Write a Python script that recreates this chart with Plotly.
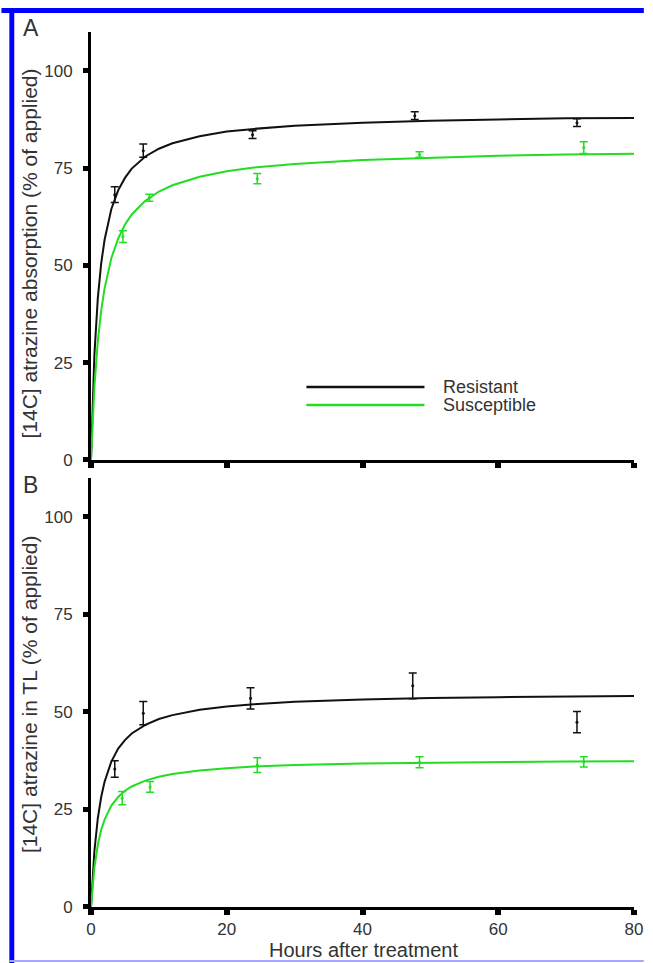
import plotly.graph_objects as go
from plotly.subplots import make_subplots

# ---------------- data ----------------
# Panel A: [14C] atrazine absorption (% of applied)
a_res_x = [3.5, 7.7, 23.8, 47.7, 71.6]
a_res_y = [68.2, 79.5, 83.6, 88.5, 86.7]
a_res_err = [2.0, 1.7, 1.0, 1.0, 1.0]
a_sus_x = [4.7, 8.6, 24.5, 48.4, 72.6]
a_sus_y = [57.4, 67.4, 72.3, 78.5, 80.3]
a_sus_err = [1.5, 0.9, 1.3, 0.7, 1.5]

# Panel B: [14C] atrazine in TL (% of applied)
b_res_x = [3.5, 7.7, 23.5, 47.4, 71.6]
b_res_y = [35.4, 49.7, 53.5, 56.7, 47.4]
b_res_err = [2.1, 3.0, 2.7, 3.3, 2.7]
b_sus_x = [4.6, 8.7, 24.5, 48.4, 72.6]
b_sus_y = [27.9, 30.8, 36.4, 37.1, 37.2]
b_sus_err = [1.7, 1.4, 1.9, 1.4, 1.3]

# fitted curves
curve_x = [0, 0.25, 0.5, 1, 1.5, 2, 3, 4, 5, 6, 8, 10, 12, 16, 20, 24, 30, 40, 50, 60, 70, 80]
a_res_curve = [0, 15.9, 27.0, 41.5, 50.5, 56.6, 64.5, 69.3, 72.5, 74.9, 78.0, 80.0, 81.4,
               83.2, 84.4, 85.1, 85.9, 86.7, 87.2, 87.5, 87.8, 87.9]
a_sus_curve = [0, 10.6, 18.8, 30.4, 38.4, 44.1, 51.9, 56.9, 60.5, 63.1, 66.6, 69.0, 70.6,
               72.8, 74.2, 75.2, 76.1, 77.1, 77.7, 78.2, 78.5, 78.7]
b_res_curve = [0, 8.2, 14.3, 22.7, 28.2, 32.1, 37.3, 40.6, 42.8, 44.5, 46.7, 48.2, 49.2,
               50.6, 51.4, 52.0, 52.6, 53.2, 53.6, 53.8, 54.0, 54.1]
b_sus_curve = [0, 5.8, 10.1, 15.9, 19.8, 22.4, 26.0, 28.2, 29.8, 30.9, 32.4, 33.4, 34.1,
               35.0, 35.6, 36.0, 36.4, 36.8, 37.0, 37.2, 37.3, 37.4]

x_ticks = [0, 20, 40, 60, 80]
y_ticks = [0, 25, 50, 75, 100]
series_names = ["Resistant", "Susceptible"]

BLACK = "#111111"
GREEN = "#22DD22"
FONT = "Liberation Sans, Arial, sans-serif"
TXT = "#333333"

fig = make_subplots(rows=2, cols=1, vertical_spacing=0.0)

panels = [
    (1, a_res_x, a_res_y, a_res_err, a_sus_x, a_sus_y, a_sus_err, a_res_curve, a_sus_curve),
    (2, b_res_x, b_res_y, b_res_err, b_sus_x, b_sus_y, b_sus_err, b_res_curve, b_sus_curve),
]
for row, rx, ry, re, sx, sy, se, rc, sc in panels:
    for cx, cy, col in [(curve_x, rc, BLACK), (curve_x, sc, GREEN)]:
        fig.add_trace(go.Scatter(x=cx, y=cy, mode="lines", line=dict(color=col, width=2),
                                 showlegend=False, hoverinfo="skip"), row=row, col=1)
    for px, py, pe, col, nm in [(rx, ry, re, BLACK, series_names[0]), (sx, sy, se, GREEN, series_names[1])]:
        fig.add_trace(go.Scatter(x=px, y=py, mode="markers", name=nm,
                                 marker=dict(color=col, size=3),
                                 error_y=dict(type="data", array=pe, visible=True,
                                              color=col, thickness=1.5, width=4),
                                 showlegend=False), row=row, col=1)

axis_common = dict(showline=True, linecolor="black", linewidth=3, showgrid=False, zeroline=False,
                   ticks="outside", tickcolor="black", tickfont=dict(family=FONT, size=17, color=TXT))
fig.update_xaxes(range=[0, 80], tickvals=x_ticks, ticklen=5, tickwidth=6, **axis_common)
fig.update_yaxes(range=[0, 110], tickvals=y_ticks, ticklen=5, tickwidth=5, ticklabelstandoff=7,
                 **axis_common)
fig.update_xaxes(showticklabels=False, row=1, col=1)
fig.update_yaxes(domain=[0.5109, 1.0], row=1, col=1)
fig.update_yaxes(domain=[0.0, 0.4903], row=2, col=1)

annotations = [
    dict(text="[14C] atrazine absorption (% of applied)", x=-0.1141, y=0.7469, textangle=-90,
         font=dict(size=21, color=TXT, family=FONT)),
    dict(text="[14C] atrazine in TL (% of applied)", x=-0.1141, y=0.2434, textangle=-90,
         font=dict(size=21, color=TXT, family=FONT)),
    dict(text="Hours after treatment", x=0.501, y=-0.0491,
         font=dict(size=20, color=TXT, family=FONT)),
    dict(text="A", x=-0.1105, y=1.0046, font=dict(size=23, color=TXT, family=FONT)),
    dict(text="B", x=-0.1105, y=0.4823, font=dict(size=23, color=TXT, family=FONT)),
    dict(text=series_names[0], x=0.6467, y=0.5943, xanchor="left",
         font=dict(size=18, color=TXT, family=FONT)),
    dict(text=series_names[1], x=0.6467, y=0.5737, xanchor="left",
         font=dict(size=18, color=TXT, family=FONT)),
]
for a in annotations:
    a.setdefault("xanchor", "center")
    fig.add_annotation(xref="paper", yref="paper", showarrow=False, yanchor="middle",
                       borderpad=0, **a)

shapes = [
    # legend lines
    dict(type="line", x0=0.3967, x1=0.6141, y0=0.5943, y1=0.5943, line=dict(color=BLACK, width=2.5)),
    dict(type="line", x0=0.3967, x1=0.6141, y0=0.5737, y1=0.5737, line=dict(color=GREEN, width=2.5)),
    # blue frame
    dict(type="rect", x0=-0.1649, x1=1.0181, y0=1.0217, y1=1.0274, fillcolor="#0000FF",
         line=dict(width=0)),
    dict(type="rect", x0=-0.1504, x1=-0.1413, y0=-0.066, y1=1.0274, fillcolor="#0000FF",
         line=dict(width=0)),
    dict(type="line", x0=-0.1504, x1=1.0181, y0=-0.0617, y1=-0.0617, line=dict(color="#A8A8FF", width=2)),
]
for s in shapes:
    fig.add_shape(xref="paper", yref="paper", **s)

fig.update_layout(width=653, height=963, margin=dict(l=91, r=10, t=32, b=56),
                  paper_bgcolor="white", plot_bgcolor="white", showlegend=False,
                  font=dict(family=FONT, color=TXT))

fig.write_html("out.html", config={"displayModeBar": False},
               post_script="document.body.style.margin='0';")
